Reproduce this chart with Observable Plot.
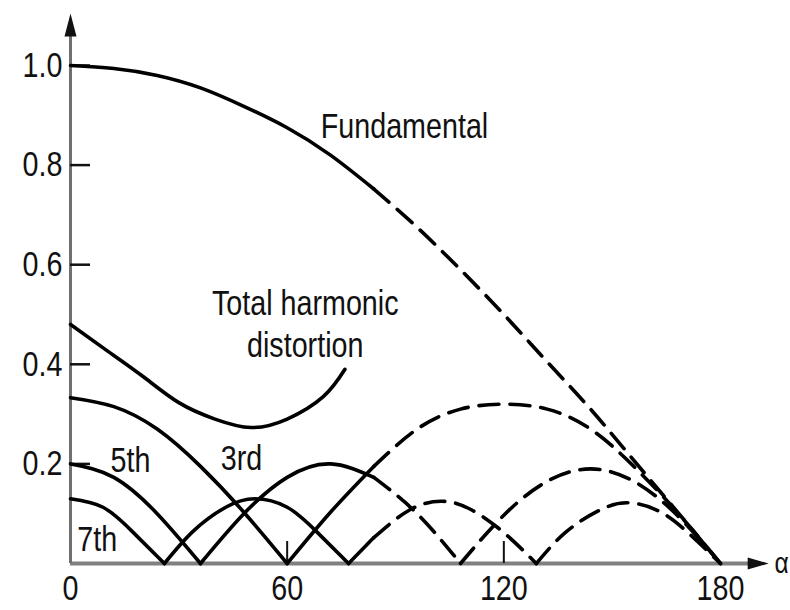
<!DOCTYPE html>
<html><head><meta charset="utf-8">
<script src="https://cdn.jsdelivr.net/npm/d3@7"></script>
<script src="https://cdn.jsdelivr.net/npm/@observablehq/plot@0.6"></script>
<style>html,body{margin:0;padding:0;background:#fff;overflow:hidden}</style>
</head><body><div id="chart"></div>
<script>
// ---- data (alpha in degrees, amplitude relative) ----
const fundAlpha = [0, 12, 24, 36, 48, 60, 72, 84, 96, 108, 120, 132, 144, 156, 168, 180];
const fundValue = [1.0, 0.994, 0.98, 0.955, 0.918, 0.875, 0.82, 0.752, 0.675, 0.59, 0.5, 0.405, 0.31, 0.207, 0.104, 0];

const h3Alpha = [0, 12, 24, 36, 48, 60, 72, 84, 96, 108, 120, 132, 144, 156, 168, 180];
const h3Value = [0.333, 0.315, 0.27, 0.195, 0.103, 0, 0.103, 0.195, 0.27, 0.31, 0.32, 0.31, 0.27, 0.195, 0.103, 0];

const h5Alpha = [0, 12, 24, 36, 48, 60, 72, 84, 96, 108, 120, 132, 144, 156, 168, 180];
const h5Value = [0.2, 0.173, 0.1, 0, 0.1, 0.173, 0.2, 0.173, 0.1, 0, 0.097, 0.165, 0.19, 0.165, 0.097, 0];

const h7Alpha = [0, 9, 17, 26, 34, 43, 51, 60, 68, 77, 84, 94, 103, 111, 120, 129, 137, 146, 154, 163, 171, 180];
const h7Value = [0.13, 0.113, 0.065, 0, 0.065, 0.113, 0.13, 0.113, 0.065, 0, 0.052, 0.108, 0.125, 0.108, 0.062, 0, 0.062, 0.105, 0.122, 0.105, 0.062, 0];

const thdAlpha = [0, 10, 20, 30, 40, 50, 60, 70, 76];
const thdValue = [0.48, 0.428, 0.376, 0.323, 0.29, 0.273, 0.29, 0.335, 0.39];

const solidUntil = 84;          // curves are drawn solid up to this angle, dashed beyond
const xTicks = [0, 60, 120, 180];
const xInnerTicks = [60, 120];
const yTicks = [0.2, 0.4, 0.6, 0.8, 1.0];

// ---- split every curve into arches (at interior zeros) and solid / dashed parts ----
function split(name, alphas, values) {
  const solid = [], dashed = [];
  const arches = [];
  let cur = [];
  alphas.forEach((a, i) => {
    const p = {alpha: a, value: values[i]};
    cur.push(p);
    if (values[i] === 0 && i > 0 && i < alphas.length - 1) { arches.push(cur); cur = [p]; }
  });
  arches.push(cur);
  arches.forEach((arch, k) => {
    const s = arch.filter(p => p.alpha <= solidUntil);
    const d = arch.filter(p => p.alpha >= solidUntil);
    if (s.length > 1) s.forEach(p => solid.push({...p, key: name + k}));
    if (d.length > 1) d.forEach(p => dashed.push({...p, key: name + k}));
  });
  return {solid, dashed};
}
const parts = [
  split("f", fundAlpha, fundValue),
  split("h3", h3Alpha, h3Value),
  split("h5", h5Alpha, h5Value),
  split("h7", h7Alpha, h7Value),
  split("thd", thdAlpha, thdValue)
];
const solidRows = parts.flatMap(p => p.solid);
const dashedRows = parts.flatMap(p => p.dashed);

const xAxisEnd = 187.8, yAxisEnd = 1.06;
const arrowUp = {draw(ctx) { ctx.moveTo(0, -22); ctx.lineTo(6, 1); ctx.lineTo(-6, 1); ctx.closePath(); }};
const arrowRight = {draw(ctx) { ctx.moveTo(20, 0); ctx.lineTo(-1, -6); ctx.lineTo(-1, 6); ctx.closePath(); }};

const font = '"Liberation Sans", Arial, sans-serif';
const fs = 35;

const chart = Plot.plot({
  width: 790, height: 610,
  marginLeft: 70, marginRight: 70, marginTop: 65, marginBottom: 47,
  x: {domain: [0, 180], label: null},
  y: {domain: [0, 1], label: null},
  style: {fontFamily: font, fontSize: fs + "px", color: "#111", background: "#fff"},
  marks: [
    // axis lines with arrows
    Plot.ruleY([0], {x1: 0, x2: xAxisEnd, stroke: "#808080", strokeWidth: 4}),
    Plot.ruleX([0], {y1: 0, y2: yAxisEnd, stroke: "#707070", strokeWidth: 3}),
    Plot.dot([{a: 0, v: yAxisEnd}], {x: "a", y: "v", symbol: arrowUp, fill: "#111", stroke: null, r: 5}),
    Plot.dot([{a: xAxisEnd, v: 0}], {x: "a", y: "v", symbol: arrowRight, fill: "#111", stroke: null, r: 5}),
    // inward ticks
    Plot.axisY(yTicks, {tickSize: 20, dx: 20, tickFormat: () => "", stroke: "#111", strokeWidth: 2.5, label: null}),
    Plot.axisX(xInnerTicks, {tickSize: 22, dy: -22, tickFormat: () => "", stroke: "#111", strokeWidth: 2, label: null}),
    // tick labels
    Plot.axisY(yTicks, {tickSize: 0, tickPadding: 8, tickFormat: d3.format(".1f"), fontSize: fs, label: null}),
    Plot.axisX(xTicks, {tickSize: 0, tickPadding: 12, fontSize: fs, label: null}),
    // curves
    Plot.line(solidRows, {x: "alpha", y: "value", z: "key", curve: "natural", stroke: "#000", strokeWidth: 3.6}),
    Plot.line(dashedRows, {x: "alpha", y: "value", z: "key", curve: "natural", stroke: "#000", strokeWidth: 3.6, strokeDasharray: "20,11"}),
    // labels
    Plot.text(["Fundamental"], {x: 69.3, y: 0.855, textAnchor: "start", lineAnchor: "bottom", fontSize: fs}),
    Plot.text(["Total harmonic\ndistortion"], {x: 65, y: 0.414, textAnchor: "middle", lineAnchor: "bottom", lineHeight: 1.2, fontSize: fs}),
    Plot.text(["3rd"], {x: 41.6, y: 0.187, textAnchor: "start", lineAnchor: "bottom", fontSize: fs}),
    Plot.text(["5th"], {x: 11.1, y: 0.183, textAnchor: "start", lineAnchor: "bottom", fontSize: fs}),
    Plot.text(["7th"], {x: 1.9, y: 0.026, textAnchor: "start", lineAnchor: "bottom", fontSize: fs}),
    Plot.text(["α"], {x: 198.9, y: 0, textAnchor: "end", lineAnchor: "middle", fontSize: 30})
  ]
});
// the reference uses a condensed typeface: narrow every text around its own anchor
d3.select(chart).selectAll("text").each(function() {
  const t = this.getAttribute("transform") || "";
  const x = +this.getAttribute("x") || 0, y = +this.getAttribute("y") || 0;
  this.setAttribute("transform", `${t} translate(${x},${y}) scale(0.82,1) translate(${-x},${-y})`);
});
document.getElementById("chart").appendChild(chart);
</script></body></html>
